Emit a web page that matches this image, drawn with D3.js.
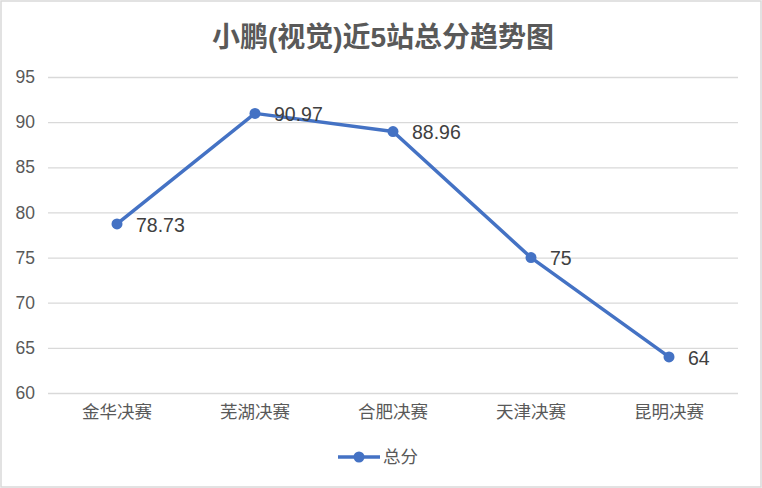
<!DOCTYPE html>
<html><head><meta charset="utf-8">
<script src="https://cdn.jsdelivr.net/npm/d3@7"></script>
<style>
html,body{margin:0;padding:0;background:#fff;}
text{font-family:"Liberation Sans","Noto Sans CJK SC",sans-serif;}
</style></head>
<body>
<svg id="c" width="762" height="488"></svg>
<script>
const title = "小鹏(视觉)近5站总分趋势图";
const categories = ["金华决赛","芜湖决赛","合肥决赛","天津决赛","昆明决赛"];
const seriesName = "总分";
const values = [78.73, 90.97, 88.96, 75, 64];
const yTicks = [60,65,70,75,80,85,90,95];

const svg = d3.select("#c");
const W = 762, H = 488;
svg.append("rect").attr("x",1).attr("y",1).attr("width",W-2).attr("height",H-2)
  .attr("fill","#fff").attr("stroke","#d9d9d9").attr("stroke-width",1.5);

const m = {left:48, right:24, top:77, bottom:95};
const x = d3.scaleBand().domain(categories).range([m.left, W-m.right]);
const y = d3.scaleLinear().domain([60,95]).range([H-m.bottom, m.top]);

svg.append("text").attr("x",W/2+2).attr("y",47).attr("text-anchor","middle")
  .attr("font-size",28).attr("font-weight","bold").attr("fill","#595959").text(title);

const yAxis = d3.axisLeft(y).tickValues(yTicks).tickSize(-(W-m.right-m.left)).tickPadding(13);
const gy = svg.append("g").attr("transform",`translate(${m.left},0)`).call(yAxis);
gy.select(".domain").remove();
gy.selectAll(".tick line").attr("stroke","#d9d9d9").attr("stroke-width",1.3);
gy.selectAll(".tick text").attr("fill","#595959").attr("font-size",17.5)
  .attr("font-family","Liberation Sans, sans-serif");

const xAxis = d3.axisBottom(x).tickSize(0).tickPadding(13);
const gx = svg.append("g").attr("transform",`translate(0,${H-m.bottom})`).call(xAxis);
gx.select(".domain").remove();
gx.selectAll(".tick text").attr("fill","#595959").attr("font-size",17.5)
  .attr("font-family","Noto Sans CJK SC, sans-serif");

const cx = (d,i)=>x(categories[i])+x.bandwidth()/2;
const line = d3.line().x((d,i)=>cx(d,i)).y(d=>y(d));
svg.append("path").datum(values).attr("d",line).attr("fill","none")
  .attr("stroke","#4472C4").attr("stroke-width",3.5).attr("stroke-linejoin","round");
svg.selectAll("circle.pt").data(values).enter().append("circle").attr("class","pt")
  .attr("cx",(d,i)=>cx(d,i)).attr("cy",d=>y(d)).attr("r",5.5).attr("fill","#4472C4");
svg.selectAll("text.lbl").data(values).enter().append("text").attr("class","lbl")
  .attr("x",(d,i)=>cx(d,i)+19).attr("y",d=>y(d)+1).attr("dy","0.35em")
  .attr("font-size",19.5).attr("fill","#404040").text(d=>d);

const lg = svg.append("g").attr("transform","translate(338,457)");
lg.append("line").attr("x1",0).attr("x2",42).attr("y1",0).attr("y2",0)
  .attr("stroke","#4472C4").attr("stroke-width",3.5);
lg.append("circle").attr("cx",21).attr("cy",0).attr("r",5.5).attr("fill","#4472C4");
lg.append("text").attr("x",45).attr("y",0).attr("dy","0.35em").attr("font-size",17.5)
  .attr("fill","#595959").attr("font-family","Noto Sans CJK SC, sans-serif").text(seriesName);
</script>
</body></html>
